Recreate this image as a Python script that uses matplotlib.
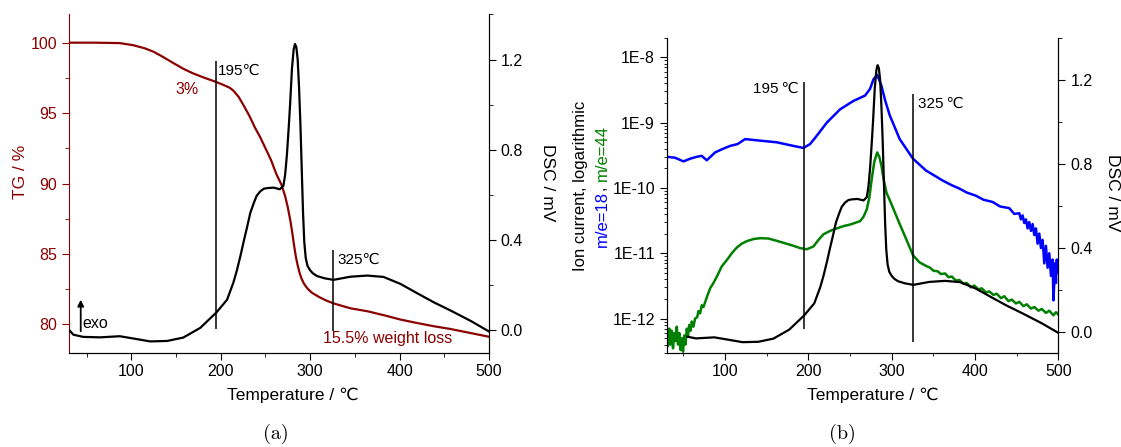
import matplotlib
matplotlib.use("Agg")
import matplotlib.pyplot as plt
from matplotlib.ticker import MultipleLocator, FormatStrFormatter, LogLocator, FuncFormatter
import numpy as np

plt.rcParams['font.family'] = ['Liberation Sans', 'DejaVu Sans']
plt.rcParams['font.size'] = 11.5

dark_red = '#8b0000'
blue = '#0000ff'
green = '#008000'

# TG curve (mass %)
tg_temp = [30, 57, 87, 102, 115, 125, 135, 147, 158, 169, 182, 194, 203, 210, 214, 220,
           226, 232, 238, 244, 250, 256, 262, 268, 272, 275, 278, 280, 282, 284, 286, 288,
           290, 293, 297, 302, 310, 318, 326, 345, 364, 383, 401, 420, 438, 457, 475, 500]
tg_mass = [100.0, 100.0, 99.97, 99.82, 99.6, 99.35, 99.0, 98.55, 98.15, 97.82, 97.5, 97.23,
           97.0, 96.8, 96.6, 96.15, 95.5, 94.8, 94.0, 93.3, 92.5, 91.7, 90.7, 89.9, 89.1,
           88.3, 87.3, 86.5, 85.6, 84.8, 84.2, 83.7, 83.3, 82.9, 82.55, 82.25, 81.95, 81.7,
           81.5, 81.15, 80.94, 80.65, 80.35, 80.1, 79.88, 79.68, 79.45, 79.13]

# DSC signal (mV), same run for both panels
dsc_temp = [30, 35, 46, 65, 87, 102, 121, 140, 158, 177, 195, 207, 214, 218, 222, 226, 229,
            233, 237, 240, 244, 248, 252, 259, 266, 270, 272, 274, 276, 277.5, 279.6, 281.5,
            283, 284.5, 286, 287.5, 289, 290.8, 292, 293.4, 295, 297, 300, 303, 307.6, 316,
            326, 345, 364, 382, 401, 420, 438, 457, 480, 500]
dsc_mv = [0.002, -0.02, -0.03, -0.032, -0.027, -0.037, -0.05, -0.048, -0.033, 0.01, 0.078,
          0.135, 0.21, 0.265, 0.33, 0.40, 0.45, 0.52, 0.565, 0.595, 0.615, 0.627, 0.63, 0.632,
          0.625, 0.64, 0.69, 0.78, 0.90, 1.0, 1.16, 1.245, 1.269, 1.255, 1.2, 1.08, 0.92,
          0.68, 0.52, 0.39, 0.32, 0.285, 0.265, 0.252, 0.24, 0.23, 0.223, 0.237, 0.242,
          0.236, 0.205, 0.163, 0.124, 0.087, 0.04, -0.006]

# MS ion current m/e=18 (A)
ms18_temp = [30, 40, 50, 58, 66, 72, 78, 88, 97, 106, 115, 124, 142, 162, 182, 194, 202,
             210, 222, 238, 254, 268, 274, 278, 282.5, 287.5, 292, 297.5, 309.5, 325.5,
             341, 361, 372, 381, 390, 401, 410, 421, 430, 441, 447, 453, 455, 457, 459,
             461, 463, 465, 467, 469, 471, 473, 475, 477, 479, 481, 483, 485, 487, 489,
             491, 493, 494, 496, 497, 498, 499, 500]
ms18_ion = [3.0e-10, 2.9e-10, 2.55e-10, 2.8e-10, 3.0e-10, 3.1e-10, 2.65e-10, 3.5e-10,
            3.95e-10, 4.4e-10, 4.7e-10, 5.6e-10, 5.3e-10, 5.0e-10, 4.4e-10, 4.1e-10,
            4.7e-10, 6.3e-10, 1.0e-9, 1.6e-9, 2.15e-9, 2.6e-9, 3.3e-9, 4.6e-9, 5.4e-9,
            3.7e-9, 2.2e-9, 1.3e-9, 5.6e-10, 2.8e-10, 1.85e-10, 1.3e-10, 1.1e-10, 9.8e-11,
            8.5e-11, 7.6e-11, 6.6e-11, 6.1e-11, 5.2e-11, 4.9e-11, 4.0e-11, 4.1e-11, 3.3e-11,
            3.8e-11, 2.9e-11, 3.3e-11, 2.4e-11, 3.0e-11, 2.2e-11, 2.8e-11, 1.9e-11, 2.4e-11,
            1.4e-11, 2.0e-11, 1.2e-11, 1.6e-11, 7e-12, 1.3e-11, 6e-12, 1.0e-11, 4.5e-12,
            8e-12, 1.9e-12, 7e-12, 3.5e-12, 8e-12, 5e-12, 6e-12]

# MS ion current m/e=44 (A)
ms44_temp = [30, 31.5, 33, 34.5, 36, 37.5, 39, 40.5, 42, 43.5, 45, 46.5, 48, 49.5, 51,
             52.5, 54, 55.5, 57, 58.5, 60, 62, 64, 66.5, 68, 70, 72, 74, 78.5, 82, 86, 90.5,
             96, 102.5, 108, 114, 120, 126, 134, 142, 152, 162, 172, 182, 190, 198, 206,
             212, 218, 226, 234, 242, 250, 262, 266, 270, 273, 275.7, 279, 282.5, 285,
             287.6, 290, 293.6, 300, 309.5, 316, 325.5, 333, 341, 346, 350, 355, 359, 364,
             368, 372, 377, 381, 386, 390, 395, 399, 404, 408, 413, 417, 422, 426, 431, 435,
             440, 444, 449, 453, 458, 462, 467, 471, 476, 480, 485, 489, 494, 497, 500]
ms44_ion = [6e-13, 3.8e-13, 7e-13, 4e-13, 6.5e-13, 3.5e-13, 6e-13, 4.5e-13, 7.5e-13, 4e-13,
            6e-13, 3.3e-13, 5e-13, 3.1e-13, 5.5e-13, 4e-13, 7e-13, 5.5e-13, 8e-13, 6.5e-13,
            9e-13, 7.5e-13, 1.0e-12, 1.05e-12, 1.3e-12, 1.2e-12, 1.6e-12, 1.5e-12, 2.2e-12,
            2.9e-12, 3.5e-12, 4.5e-12, 6.3e-12, 8.0e-12, 1.0e-11, 1.22e-11, 1.4e-11,
            1.53e-11, 1.65e-11, 1.7e-11, 1.68e-11, 1.55e-11, 1.42e-11, 1.3e-11, 1.2e-11,
            1.15e-11, 1.27e-11, 1.6e-11, 1.95e-11, 2.2e-11, 2.4e-11, 2.6e-11, 2.75e-11,
            3.1e-11, 3.6e-11, 4.7e-11, 7e-11, 1.3e-10, 2.5e-10, 3.5e-10, 3.0e-10, 2.2e-10,
            1.4e-10, 8.5e-11, 5.5e-11, 2.8e-11, 1.8e-11, 9.3e-12, 7.3e-12, 6.4e-12, 6.0e-12,
            5.4e-12, 5.3e-12, 4.8e-12, 4.9e-12, 4.3e-12, 4.4e-12, 3.8e-12, 3.9e-12, 3.4e-12,
            3.5e-12, 3.0e-12, 3.2e-12, 2.8e-12, 2.9e-12, 2.5e-12, 2.6e-12, 2.3e-12, 2.4e-12,
            2.05e-12, 2.2e-12, 1.85e-12, 1.95e-12, 1.7e-12, 1.8e-12, 1.55e-12, 1.65e-12,
            1.42e-12, 1.5e-12, 1.32e-12, 1.4e-12, 1.22e-12, 1.32e-12, 1.12e-12, 1.25e-12,
            1.15e-12]

marker_temps = [195, 325]


def style_x(ax):
    ax.set_xlim(30, 500)
    ax.xaxis.set_major_locator(MultipleLocator(100))
    ax.xaxis.set_minor_locator(MultipleLocator(50))
    ax.spines['top'].set_visible(False)


fig = plt.figure(figsize=(11.21, 4.47), dpi=100)

# ---------- (a) TG / DSC ----------
axa = fig.add_axes([0.0614, 0.211, 0.3748, 0.7566])
axa2 = axa.twinx()
axa.plot(tg_temp, tg_mass, color=dark_red, lw=1.6)
axa.set_ylim(78, 102)
axa.yaxis.set_major_locator(MultipleLocator(5))
axa.yaxis.set_minor_locator(MultipleLocator(2.5))
style_x(axa)
axa.spines['left'].set_color(dark_red)
axa.tick_params(axis='y', which='both', colors=dark_red)
axa.tick_params(which='both', direction='out')
axa.tick_params(which='major', length=5)
axa.tick_params(which='minor', length=3)

axa2.plot(dsc_temp, dsc_mv, color='k', lw=1.6)
axa2.set_ylim(-0.1, 1.4)
axa2.yaxis.set_major_locator(MultipleLocator(0.4))
axa2.yaxis.set_minor_locator(MultipleLocator(0.2))
axa2.yaxis.set_major_formatter(FormatStrFormatter('%.1f'))
axa2.spines['top'].set_visible(False)
axa2.spines['left'].set_visible(False)
axa2.tick_params(which='major', length=5)
axa2.tick_params(which='minor', length=3)

axa2.vlines(marker_temps[0], 0.007, 1.192, color='k', lw=1.1)
axa2.vlines(marker_temps[1], -0.002, 0.357, color='k', lw=1.1)
axa2.text(197, 1.15, '195℃', ha='left', va='center', fontsize=11)
axa2.text(330, 0.313, '325℃', ha='left', va='center', fontsize=11)
axa.text(162, 96.7, '3%', color=dark_red, ha='center', va='center')
axa.text(314, 78.99, '15.5% weight loss', color=dark_red, ha='left', va='center')
axa2.annotate('', xy=(43.3, 0.135), xytext=(43.3, -0.005),
              arrowprops=dict(arrowstyle='-|>', color='k', lw=1.3,
                              mutation_scale=9, shrinkA=0, shrinkB=0))
axa2.text(45.5, 0.03, 'exo', ha='left', va='center')

axa.text(-0.114, 0.534, 'TG / %', color=dark_red, rotation=90, fontsize=12.5,
         ha='center', va='center', transform=axa.transAxes)
axa.text(1.140, 0.503, 'DSC / mV', rotation=270, fontsize=12.5,
         ha='center', va='center', transform=axa.transAxes)
axa.text(0.533, -0.127, 'Temperature / ℃', fontsize=12.5,
         ha='center', va='center', transform=axa.transAxes)

# ---------- (b) MS / DSC ----------
axb = fig.add_axes([0.5948, 0.211, 0.3494, 0.7047])
axb2 = axb.twinx()
axb.plot(ms18_temp, ms18_ion, color=blue, lw=1.8)
axb.plot(ms44_temp, ms44_ion, color=green, lw=1.8)
axb.set_yscale('log')
axb.set_ylim(3e-13, 2e-8)
axb.yaxis.set_major_locator(LogLocator(base=10, numticks=10))
axb.yaxis.set_minor_locator(LogLocator(base=10, subs=np.arange(2, 10), numticks=10))
axb.yaxis.set_major_formatter(FuncFormatter(lambda v, p: '1E%d' % round(np.log10(v))))
style_x(axb)
axb.tick_params(which='both', direction='out')
axb.tick_params(which='major', length=5)
axb.tick_params(which='minor', length=2.5)

dsc_t = np.array(dsc_temp)
dsc_v = np.array(dsc_mv)
keep = dsc_t >= 55
axb2.plot(np.r_[55, dsc_t[keep]], np.r_[-0.024, dsc_v[keep]], color='k', lw=1.6)
axb2.set_ylim(-0.1, 1.4)
axb2.yaxis.set_major_locator(MultipleLocator(0.4))
axb2.yaxis.set_minor_locator(MultipleLocator(0.2))
axb2.yaxis.set_major_formatter(FormatStrFormatter('%.1f'))
axb2.spines['top'].set_visible(False)
axb2.tick_params(which='major', length=5)
axb2.tick_params(which='minor', length=3)

axb2.vlines(marker_temps[0], 0.011, 1.19, color='k', lw=1.1)
axb2.vlines(marker_temps[1], -0.048, 1.133, color='k', lw=1.1)
axb2.text(188, 1.157, '195\u2009℃', ha='right', va='center', fontsize=11)
axb2.text(331, 1.086, '325\u2009℃', ha='left', va='center', fontsize=11)

axb.text(1.139, 0.507, 'DSC / mV', rotation=270, fontsize=12.5,
         ha='center', va='center', transform=axb.transAxes)
axb.text(0.526, -0.134, 'Temperature / ℃', fontsize=12.5,
         ha='center', va='center', transform=axb.transAxes)

# two-line y label, second line coloured per series
lab_x1, lab_x2, lab_yc = 580.5 / 1121, 602 / 1121, 1 - 186 / 447
fig.text(lab_x1, lab_yc, 'Ion current, logarithmic', rotation=90,
         fontsize=12, ha='center', va='center')
fig.canvas.draw()
rend = fig.canvas.get_renderer()
parts = [('m/e=18', blue), (', ', 'k'), ('m/e=44', green)]
objs = [fig.text(lab_x2, lab_yc, s, color=c, rotation=90, fontsize=12,
                 ha='center', va='bottom') for s, c in parts]
heights = [t.get_window_extent(rend).height for t in objs]
fig_h = fig.bbox.height
y0 = lab_yc * fig_h - sum(heights) / 2
for t, h in zip(objs, heights):
    t.set_position((lab_x2, y0 / fig_h))
    y0 += h

# panel captions
fig.text(275.6 / 1121, 1 - 434 / 447, '(a)', family='cmr10', fontsize=14.5,
         ha='center', va='center')
fig.text(842 / 1121, 1 - 434 / 447, '(b)', family='cmr10', fontsize=14.5,
         ha='center', va='center')

fig.savefig('out.png', dpi=100)
